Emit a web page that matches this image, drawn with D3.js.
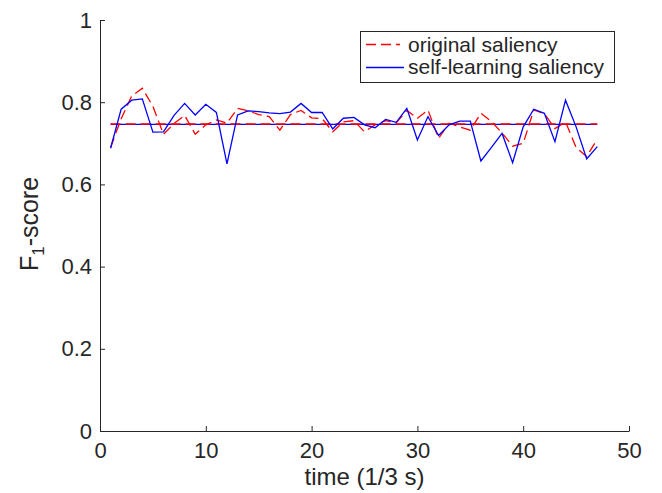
<!DOCTYPE html>
<html lang="en">
<head>
  <meta charset="utf-8">
  <title>F1-score over time</title>
  <script src="https://d3js.org/d3.v7.min.js"></script>
  <style>
    body { margin: 0; background: #fff; }
    text { font-family: "Liberation Sans", Arial, Helvetica, sans-serif; fill: #262626; }
  </style>
</head>
<body>
  <script>
    // values, one per time step (1..47)
    var original = [0.690, 0.760, 0.815, 0.834, 0.790, 0.722, 0.748, 0.768, 0.722, 0.745,
                    0.757, 0.749, 0.785, 0.779, 0.770, 0.765, 0.732, 0.770, 0.780, 0.762,
                    0.760, 0.728, 0.752, 0.755, 0.728, 0.745, 0.755, 0.750, 0.780, 0.761,
                    0.781, 0.712, 0.749, 0.740, 0.732, 0.773, 0.753, 0.725, 0.693, 0.700,
                    0.781, 0.772, 0.736, 0.752, 0.690, 0.668, 0.710];
    var selfLearning = [0.688, 0.783, 0.805, 0.808, 0.727, 0.728, 0.768, 0.797, 0.769, 0.795,
                        0.775, 0.650, 0.769, 0.779, 0.777, 0.774, 0.772, 0.776, 0.797, 0.775,
                        0.775, 0.735, 0.761, 0.763, 0.745, 0.738, 0.758, 0.751, 0.785, 0.708,
                        0.765, 0.719, 0.745, 0.754, 0.754, 0.657, 0.690, 0.724, 0.653, 0.740,
                        0.783, 0.773, 0.704, 0.805, 0.740, 0.662, 0.692];
    var meanOriginal = 0.747;
    var meanSelf = 0.746;
    var xTicks = [0, 10, 20, 30, 40, 50];
    var yTicks = [0, 0.2, 0.4, 0.6, 0.8, 1];
    var legendLabels = ["original saliency", "self-learning saliency"];

    var width = 662,
        height = 493;

    var svg = d3.select("body").append("svg")
        .attr("width", width)
        .attr("height", height);

    var x = d3.scaleLinear().domain([0, 50]).range([100, 629]);
    var y = d3.scaleLinear().domain([0, 1]).range([431, 20]);

    var axisColor = "#262626";

    // axes, ticks pointing inward like matlab
    var gx = svg.append("g")
        .attr("transform", "translate(0," + y(0) + ")")
        .call(d3.axisBottom(x).tickValues(xTicks).tickSizeInner(-5).tickSizeOuter(0).tickPadding(11)
          .tickFormat(d3.format("d")));
    var gy = svg.append("g")
        .attr("transform", "translate(" + x(0) + ",0)")
        .call(d3.axisLeft(y).tickValues(yTicks).tickSizeInner(-5).tickSizeOuter(0).tickPadding(8)
          .tickFormat(function(d) { return d === 0 || d === 1 ? d : d.toFixed(1); }));

    [gx, gy].forEach(function(g) {
      g.selectAll("path, line").attr("stroke", axisColor).attr("stroke-width", 1);
      g.selectAll("text").attr("fill", axisColor).style("font-size", "22px")
        .style("font-family", "'Liberation Sans', Arial, sans-serif");
    });

    var idx = d3.range(1, original.length + 1);

    var line = d3.line()
        .x(function(d) { return x(d[0]); })
        .y(function(d) { return y(d[1]); });

    var plot = svg.append("g").attr("fill", "none");

    // mean lines
    plot.append("path")
        .attr("d", line([[1, meanSelf], [47, meanSelf]]))
        .attr("stroke", "#0000ff").attr("stroke-width", 1.3);
    plot.append("path")
        .attr("d", line([[1, meanOriginal], [47, meanOriginal]]))
        .attr("stroke", "#ff0000").attr("stroke-width", 1.3)
        .attr("stroke-dasharray", "10,5");

    plot.append("path")
        .attr("d", line(idx.map(function(t, i) { return [t, original[i]]; })))
        .attr("stroke", "#ff0000").attr("stroke-width", 1.3)
        .attr("stroke-dasharray", "10,5");
    plot.append("path")
        .attr("d", line(idx.map(function(t, i) { return [t, selfLearning[i]]; })))
        .attr("stroke", "#0000ff").attr("stroke-width", 1.3);

    // axis labels
    svg.append("text")
        .attr("x", (x(0) + x(50)) / 2)
        .attr("y", 485)
        .attr("text-anchor", "middle")
        .style("font-size", "24px")
        .text("time (1/3 s)");

    var yl = svg.append("text")
        .attr("transform", "translate(38,224) rotate(-90)")
        .attr("text-anchor", "middle")
        .style("font-size", "25px");
    yl.append("tspan").text("F");
    yl.append("tspan").attr("dy", 6).style("font-size", "17px").text("1");
    yl.append("tspan").attr("dy", -6).text("-score");

    // legend
    var lg = svg.append("g");
    lg.append("rect")
        .attr("x", 360.5).attr("y", 31.5).attr("width", 254).attr("height", 51)
        .attr("fill", "#fff").attr("stroke", axisColor).attr("stroke-width", 1);
    lg.append("line")
        .attr("x1", 366).attr("x2", 400).attr("y1", 44.5).attr("y2", 44.5)
        .attr("stroke", "#ff0000").attr("stroke-width", 1.3).attr("stroke-dasharray", "10,5");
    lg.append("line")
        .attr("x1", 366).attr("x2", 404).attr("y1", 67.5).attr("y2", 67.5)
        .attr("stroke", "#0000ff").attr("stroke-width", 1.3);
    lg.selectAll("text.lab")
        .data(legendLabels)
        .enter().append("text")
        .attr("class", "lab")
        .attr("x", 408)
        .attr("y", function(d, i) { return 52 + i * 22; })
        .style("font-size", "21px")
        .text(function(d) { return d; });
  </script>
</body>
</html>
